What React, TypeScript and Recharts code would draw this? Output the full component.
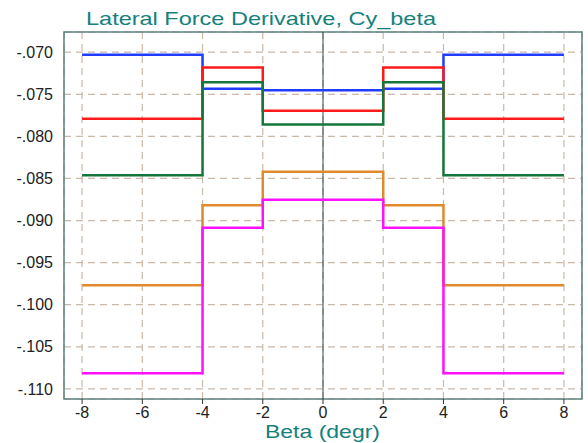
import { LineChart, Line, XAxis, YAxis, CartesianGrid, ReferenceLine, ReferenceArea } from "recharts";

// step breakpoints (stepAfter: each value holds until the next beta)
const beta = [-8, -4, -2, 2, 4, 8];

const cyBlue = [-0.0703, -0.07435, -0.07452, -0.07435, -0.0703, -0.0703];
const cyRed = [-0.07791, -0.07182, -0.07696, -0.07182, -0.07791, -0.07791];
const cyGreen = [-0.08462, -0.07356, -0.07859, -0.07356, -0.08462, -0.08462];
const cyOrange = [-0.09769, -0.08818, -0.08421, -0.08818, -0.09769, -0.09769];
const cyMagenta = [-0.10815, -0.09087, -0.08754, -0.09087, -0.10815, -0.10815];

const xTicks = [-8, -6, -4, -2, 0, 2, 4, 6, 8];
const yTicks = [-0.11, -0.105, -0.1, -0.095, -0.09, -0.085, -0.08, -0.075, -0.07];

const xDomain: [number, number] = [-8.6, 8.6];
const yDomain: [number, number] = [-0.1112, -0.0676];

const data = beta.map((b, i) => ({
  beta: b,
  blue: cyBlue[i],
  red: cyRed[i],
  green: cyGreen[i],
  orange: cyOrange[i],
  magenta: cyMagenta[i],
}));

const series = [
  { key: "blue", color: "#1f3cff" },
  { key: "red", color: "#ff1a1a" },
  { key: "green", color: "#16753a" },
  { key: "orange", color: "#e08a2e" },
  { key: "magenta", color: "#ff10ff" },
];

const font = "'Liberation Sans', Arial, sans-serif";
const teal = "#15817c";

const fmtY = (v: number) => v.toFixed(3).replace("-0.", "-.");

export default function App() {
  return (
    <div style={{ position: "absolute", left: 0, top: 0, width: 588, height: 443, background: "#fff" }}>
      <LineChart
        width={588}
        height={443}
        data={data}
        margin={{ top: 32, right: 6, left: 0, bottom: 0 }}
      >
        <CartesianGrid stroke="#c9b9a9" strokeDasharray="7 5" strokeWidth={1.2} />
        <XAxis
          dataKey="beta"
          type="number"
          domain={xDomain}
          ticks={xTicks}
          allowDataOverflow
          height={44}
          axisLine={false}
          tickLine={{ stroke: "#333" }}
          tickSize={5}
          tickMargin={3}
          tick={{ fill: "#222", fontSize: 16, fontFamily: font }}
        />
        <YAxis
          type="number"
          domain={yDomain}
          ticks={yTicks}
          allowDataOverflow
          width={64}
          axisLine={false}
          tickLine={false}
          tickMargin={5}
          tickFormatter={fmtY}
          tick={{ fill: "#222", fontSize: 16, fontFamily: font }}
        />
        <ReferenceLine x={0} stroke="#2f4a4a" strokeWidth={1} />
        <ReferenceArea
          x1={xDomain[0]}
          x2={xDomain[1]}
          y1={yDomain[0]}
          y2={yDomain[1]}
          fill="none"
          fillOpacity={0}
          stroke="#5e8080"
          strokeWidth={1.5}
        />
        {series.map((s) => (
          <Line
            key={s.key}
            dataKey={s.key}
            type="stepAfter"
            stroke={s.color}
            strokeWidth={2.5}
            dot={false}
            isAnimationActive={false}
          />
        ))}
      </LineChart>
      <svg
        width={588}
        height={443}
        style={{ position: "absolute", left: 0, top: 0, pointerEvents: "none" }}
      >
        <text x={86} y={25} fontSize={19} fontFamily={font} fill={teal} textLength={350} lengthAdjust="spacingAndGlyphs">
          Lateral Force Derivative, Cy_beta
        </text>
        <text x={265} y={438} fontSize={19} fontFamily={font} fill={teal} textLength={115} lengthAdjust="spacingAndGlyphs">
          Beta (degr)
        </text>
      </svg>
    </div>
  );
}
